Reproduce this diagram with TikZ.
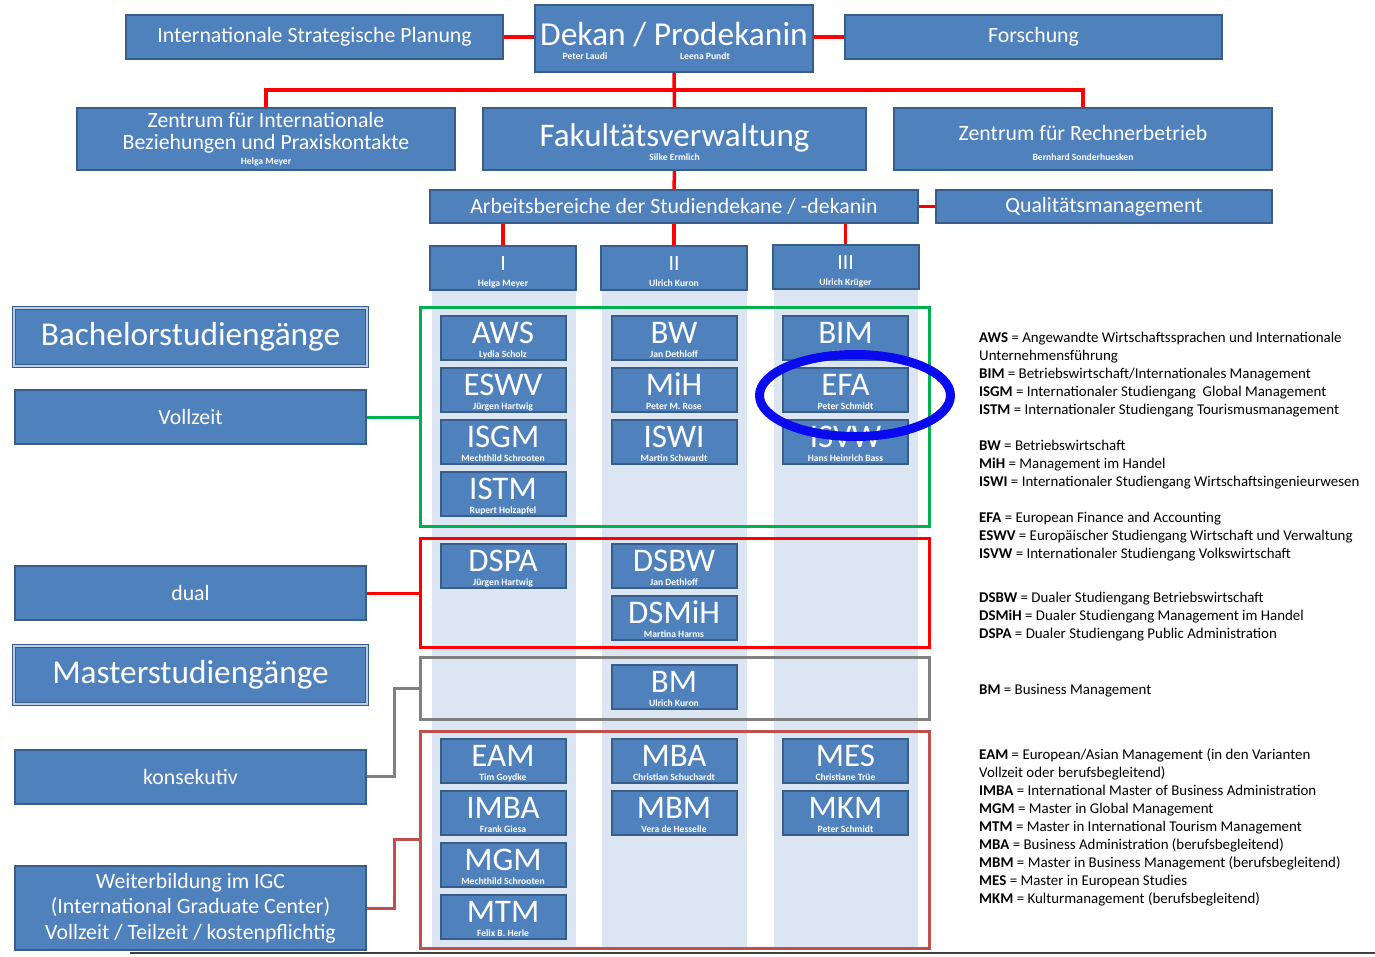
\documentclass[tikz,border=0pt]{standalone}
\usepackage{fontspec}
\setmainfont{Carlito}
\definecolor{boxblue}{HTML}{4F81BD}
\definecolor{boxline}{HTML}{385D8A}
\definecolor{colbg}{HTML}{DCE6F2}
\definecolor{linkred}{HTML}{FF0000}
\definecolor{framegreen}{HTML}{00B050}
\definecolor{framegrey}{HTML}{808080}
\definecolor{framedark}{HTML}{C0504D}
\definecolor{ringblue}{HTML}{0A0AF0}
\tikzset{
  unit/.style={rectangle, fill=boxblue, draw=boxline, line width=2pt, text=white,
    inner sep=0pt, align=center, font=\fontsize{21.8}{22}\selectfont},
  prog/.style={unit, minimum width=125pt, minimum height=44pt,
    font=\fontsize{33}{33}\selectfont, text height=10pt, text depth=0pt},
  person/.style={text=white, inner sep=0pt, anchor=base, font=\bfseries\fontsize{9.6}{10}\selectfont},
  side/.style={unit, minimum width=351pt, minimum height=54pt},
  head/.style={unit, minimum width=353pt, minimum height=58pt, line width=1.4pt,
    double=boxblue!40!white, double distance=1.2pt, font=\fontsize{33.3}{33}\selectfont},
  link/.style={linkred, line width=3.5pt},
  frame/.style={rectangle, line width=3pt, inner sep=0pt, minimum width=509pt},
  legend/.style={anchor=north west, align=left, inner sep=0pt, font=\fontsize{14.9}{18}\selectfont},
}
\begin{document}
\begin{tikzpicture}[x=1pt, y=-1pt]
\useasboundingbox (0,0) rectangle (1375,956);
% columns
\fill[colbg] (432,290) rectangle (576,948);
\fill[colbg] (602,290) rectangle (747,948);
\fill[colbg] (774,290) rectangle (918,948);

% top row
\node[unit, minimum width=377pt, minimum height=44pt] (isp) at (314.5,37) {Internationale Strategische Planung};
\node[unit, minimum width=278pt, minimum height=67pt, font=\fontsize{33.5}{33}\selectfont,
  text height=13pt, text depth=0pt] (dekan) at (674,38.5) {Dekan / Prodekanin};
\node[person] (laudi) at (585,59) {Peter Laudi};
\node[person] (pundt) at (705,59) {Leena Pundt};
\node[unit, minimum width=377pt, minimum height=44pt] (forsch) at (1033.5,37) {Forschung};

% second row
\node[unit, minimum width=378pt, minimum height=62pt, text height=20pt, text depth=0pt] (zib) at (266,139)
  {Zentrum für Internationale\\Beziehungen und Praxiskontakte};
\node[person] (meyer) at (266,164) {Helga Meyer};
\node[unit, minimum width=383pt, minimum height=62pt, font=\fontsize{33}{33}\selectfont,
  text height=14pt, text depth=0pt] (fakv) at (674.5,139) {Fakultätsverwaltung};
\node[person] (ermlich) at (674.5,160.5) {Silke Ermlich};
\node[unit, minimum width=378pt, minimum height=62pt, text height=2pt, text depth=0pt] (zfr) at (1083,139)
  {Zentrum für Rechnerbetrieb};
\node[person] (sonder) at (1083,160.5) {Bernhard Sonderhuesken};

% third row
\node[unit, minimum width=488pt, minimum height=33pt] (arbb) at (674,206.5) {Arbeitsbereiche der Studiendekane / -dekanin};
\node[unit, minimum width=336pt, minimum height=33pt] (qm) at (1104,206.5) {Qualitätsmanagement};

% areas I, II, III
\node[unit, minimum width=146pt, minimum height=44pt, text height=4pt, text depth=0pt] (ab1) at (503,268) {I};
\node[person] (ab1-name) at ([yshift=5pt]ab1.south) {Helga Meyer};
\node[unit, minimum width=146pt, minimum height=44pt, text height=4pt, text depth=0pt] (ab2) at (674,268) {II};
\node[person] (ab2-name) at ([yshift=5pt]ab2.south) {Ulrich Kuron};
\node[unit, minimum width=146pt, minimum height=44pt, text height=4pt, text depth=0pt] (ab3) at (845.5,267) {III};
\node[person] (ab3-name) at ([yshift=5pt]ab3.south) {Ulrich Krüger};

\coordinate (bar) at (674,90);
\draw[link] (isp) -- (isp -| dekan.west);
\draw[link] (forsch) -- (forsch -| dekan.east);
\draw[link] (dekan.south) -- (fakv.north);
\draw[link] (zib.north) |- (bar) -| (zfr.north);
\draw[link] (fakv.south) -- (arbb.north);
\draw[link] (arbb) -- (qm);
\draw[link] (ab1.north |- arbb.south) -- (ab1.north);
\draw[link] (ab2.north |- arbb.south) -- (ab2.north);
\draw[link] (ab3.north |- arbb.south) -- (ab3.north);

% frames
\node[frame, draw=framegreen, minimum height=219pt] (frbach) at (674.5,416.5) {};
\node[frame, draw=linkred, minimum height=109pt] (frdual) at (674.5,592.5) {};
\node[frame, draw=framegrey, minimum height=62pt] (frkons) at (674.5,688) {};
\node[frame, draw=framedark, minimum height=217pt] (frweiter) at (674.5,839.5) {};

% left side
\node[head] (bach) at (190.5,337) {Bachelorstudiengänge};
\node[side] (vollz) at (190.5,417) {Vollzeit};
\node[side] (dual) at (190.5,593) {dual};
\node[head] (mast) at (190.5,675) {Masterstudiengänge};
\node[side] (kons) at (190.5,776.5) {konsekutiv};
\node[side, minimum height=84pt, font=\fontsize{21.8}{25.5}\selectfont] (weiter) at (190.5,908)
  {Weiterbildung im IGC\\(International Graduate Center)\\Vollzeit / Teilzeit / kostenpflichtig};

\draw[framegreen, line width=3pt] (vollz.east) -- (vollz.east -| frbach.west);
\draw[linkred, line width=3pt] (dual.east) -- (dual.east -| frdual.west);
\draw[framegrey, line width=3pt] (kons.east) -- ++(27,0) |- (frkons.west);
\draw[framedark, line width=3pt] (weiter.east) -- ++(27,0) |- (frweiter.west);

% programmes
\foreach \id/\x/\y/\abbr/\who in {
  aws/503/338/AWS/Lydia Scholz, eswv/503/390/ESWV/Jürgen Hartwig,
  isgm/503/442/ISGM/Mechthild Schrooten, istm/503/494/ISTM/Rupert Holzapfel,
  bw/674/338/BW/Jan Dethloff, mih/674/390/MiH/Peter M. Rose, iswi/674/442/ISWI/Martin Schwardt,
  bim/845.5/338/BIM/Philipp, efa/845.5/390/EFA/Peter Schmidt, isvw/845.5/442/ISVW/Hans Heinrich Bass,
  dspa/503/566/DSPA/Jürgen Hartwig, dsbw/674/566/DSBW/Jan Dethloff, dsmih/674/618/DSMiH/Martina Harms,
  bm/674/687/BM/Ulrich Kuron,
  eam/503/761/EAM/Tim Goydke, imba/503/813/IMBA/Frank Giesa,
  mgm/503/865/MGM/Mechthild Schrooten, mtm/503/917/MTM/Felix B. Herle,
  mba/674/761/MBA/Christian Schuchardt, mbm/674/813/MBM/Vera de Hesselle,
  mes/845.5/761/MES/Christiane Trüe, mkm/845.5/813/MKM/Peter Schmidt}
{
  \node[prog] (\id) at (\x,\y) {\abbr};
  \node[person] (\id-name) at ([yshift=4pt]\id.south) {\who};
}

% ring round EFA
\draw[ringblue, line width=9pt] (855,395.5) ellipse [x radius=95.5pt, y radius=41pt];

% legend
\node[legend] (leg1) at (979,332) {\textbf{AWS} = Angewandte Wirtschaftssprachen und Internationale\\
  Unternehmensführung\\
  \textbf{BIM} = Betriebswirtschaft/Internationales Management\\
  \textbf{ISGM} = Internationaler Studiengang~ Global Management\\
  \textbf{ISTM} = Internationaler Studiengang Tourismusmanagement};
\node[legend] (leg2) at (979,440) {\textbf{BW} = Betriebswirtschaft\\
  \textbf{MiH} = Management im Handel\\
  \textbf{ISWI} = Internationaler Studiengang Wirtschaftsingenieurwesen};
\node[legend] (leg3) at (979,512) {\textbf{EFA} = European Finance and Accounting\\
  \textbf{ESWV} = Europäischer Studiengang Wirtschaft und Verwaltung\\
  \textbf{ISVW} = Internationaler Studiengang Volkswirtschaft};
\node[legend] (leg4) at (979,592) {\textbf{DSBW} = Dualer Studiengang Betriebswirtschaft\\
  \textbf{DSMiH} = Dualer Studiengang Management im Handel\\
  \textbf{DSPA} = Dualer Studiengang Public Administration};
\node[legend] (leg5) at (979,684) {\textbf{BM} = Business Management};
\node[legend] (leg6) at (979,748) {\textbf{EAM} = European/Asian Management (in den Varianten\\
  Vollzeit oder berufsbegleitend)\\
  \textbf{IMBA} = International Master of Business Administration\\
  \textbf{MGM} = Master in Global Management\\
  \textbf{MTM} = Master in International Tourism Management\\
  \textbf{MBA} = Business Administration (berufsbegleitend)\\
  \textbf{MBM} = Master in Business Management (berufsbegleitend)\\
  \textbf{MES} = Master in European Studies\\
  \textbf{MKM} = Kulturmanagement (berufsbegleitend)};

% page edge
\draw[black!75, line width=1.2pt] (130,953) -- (1375,953);
\end{tikzpicture}
\end{document}
